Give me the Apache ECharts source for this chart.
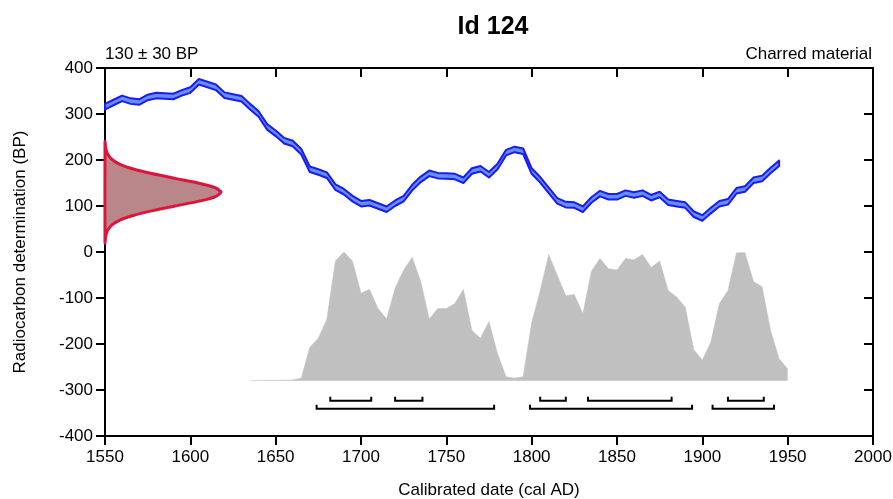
<!DOCTYPE html>
<html>
<head>
<meta charset="utf-8">
<script src="https://cdn.jsdelivr.net/npm/echarts@6/dist/echarts.min.js"></script>
<style>
  html, body { margin: 0; padding: 0; background: #fff; }
  #chart { width: 893px; height: 499px; }
</style>
</head>
<body>
<div id="chart"></div>
<script>
// calibration curve (cal AD -> BP)
var calYears = [1550, 1555, 1560, 1565, 1570, 1575, 1580, 1585, 1590, 1595,
  1600, 1605, 1610, 1615, 1620, 1625, 1630, 1635, 1640, 1645,
  1650, 1655, 1660, 1665, 1670, 1675, 1680, 1685, 1690, 1695,
  1700, 1705, 1710, 1715, 1720, 1725, 1730, 1735, 1740, 1745,
  1750, 1755, 1760, 1765, 1770, 1775, 1780, 1785, 1790, 1795,
  1800, 1805, 1810, 1815, 1820, 1825, 1830, 1835, 1840, 1845,
  1850, 1855, 1860, 1865, 1870, 1875, 1880, 1885, 1890, 1895,
  1900, 1905, 1910, 1915, 1920, 1925, 1930, 1935, 1940, 1945]
var calBP = [316, 325, 334, 328, 326, 336, 340, 339, 338, 346,
  352, 370, 364, 358, 341, 337, 333, 316, 300, 272,
  258, 242, 236, 218, 180, 174, 167, 141, 131, 116,
  105, 107, 100, 93, 106, 116, 140, 158, 171, 166,
  165, 164, 156, 176, 181, 168, 186, 216, 223, 219,
  176, 157, 134, 111, 103, 102, 93, 113, 127, 120,
  120, 128, 124, 128, 118, 125, 108, 105, 102, 82,
  74, 90, 105, 109, 133, 137, 156, 160, 177, 193]
var calSigma = 6

// measurement 130 ± 30 BP, drawn sideways (width in years)
var distBP = [240, 230, 220, 210, 200, 190, 180, 170, 160, 150, 140, 130,
  120, 110, 100, 90, 80, 70, 60, 50, 40, 30, 20]
var distW = [0, 0.3, 0.8, 2, 4.5, 9, 17, 28, 41, 54.5, 64.5, 68,
  64.5, 54.5, 41, 28, 17, 9, 4.5, 2, 0.8, 0.3, 0]

// calibrated probability (relative)
var probYears = [1635, 1640, 1645, 1650, 1655, 1660, 1665, 1670, 1675, 1680,
  1685, 1690, 1695, 1700, 1705, 1710, 1715, 1720, 1725, 1730,
  1735, 1740, 1745, 1750, 1755, 1760, 1765, 1770, 1775, 1780,
  1785, 1790, 1795, 1800, 1805, 1810, 1815, 1820, 1825, 1830,
  1835, 1840, 1845, 1850, 1855, 1860, 1865, 1870, 1875, 1880,
  1885, 1890, 1895, 1900, 1905, 1910, 1915, 1920, 1925, 1930,
  1935, 1940, 1945, 1950]
var probVal = [0, 0.002, 0.003, 0.003, 0.004, 0.005, 0.02, 0.26, 0.33, 0.48,
  0.93, 1.0, 0.93, 0.68, 0.71, 0.56, 0.48, 0.72, 0.86, 0.96,
  0.77, 0.48, 0.56, 0.56, 0.60, 0.71, 0.39, 0.33, 0.46, 0.21,
  0.03, 0.02, 0.03, 0.45, 0.70, 0.98, 0.82, 0.66, 0.67, 0.52,
  0.85, 0.95, 0.87, 0.86, 0.95, 0.94, 0.98, 0.88, 0.93, 0.70,
  0.65, 0.57, 0.24, 0.16, 0.30, 0.60, 0.70, 0.995, 0.995, 0.77,
  0.73, 0.39, 0.17, 0.09]

// highest probability ranges
var range68 = [[1682, 1706], [1720, 1736], [1805, 1820], [1833, 1882], [1915, 1936]]
var range95 = [[1674, 1778], [1799, 1894], [1906, 1942]]

var font = "'Liberation Sans', Arial, sans-serif"
var chart = echarts.init(document.getElementById('chart'))

var upperPts = calYears.map(function (y, i) { return [y, calBP[i] + calSigma] })
var lowerPts = calYears.map(function (y, i) { return [y, calBP[i] - calSigma] })
var distData = distBP.map(function (b, i) { return [1550 + distW[i], b] })
var probData = probYears.map(function (y, i) { return [y, probVal[i]] })
var rangeData = []
range68.forEach(function (r) { rangeData.push([r[0], r[1], 0]) })
range95.forEach(function (r) { rangeData.push([r[0], r[1], 1]) })

var axisLine = { onZero: false, lineStyle: { color: '#000', width: 2 } }
var tickOut = { show: true, length: 9, lineStyle: { color: '#000', width: 2 } }
var tickIn = { show: true, inside: true, length: 9, lineStyle: { color: '#000', width: 2 } }
var plain = function (v) { return String(v) }

var option = {
  backgroundColor: '#fff',
  animation: false,
  title: [
    { text: 'Id 124', left: 488, top: 10, textAlign: 'center',
      textStyle: { fontFamily: font, fontSize: 25, fontWeight: 'bold', color: '#000' } },
    { text: '130 ± 30 BP', left: 100, top: 41,
      textStyle: { fontFamily: font, fontSize: 17, fontWeight: 'normal', color: '#000' } },
    { text: 'Charred material', right: 16, top: 41,
      textStyle: { fontFamily: font, fontSize: 17, fontWeight: 'normal', color: '#000' } }
  ],
  grid: { left: 105, right: 20, top: 68, bottom: 63, outerBoundsMode: 'none' },
  xAxis: [
    {
      type: 'value', min: 1550, max: 2000, interval: 50,
      name: 'Calibrated date (cal AD)', nameLocation: 'middle', nameGap: 46,
      nameTextStyle: { fontFamily: font, fontSize: 17, color: '#000' },
      axisLine: axisLine, axisTick: tickOut,
      axisLabel: { margin: 13, fontFamily: font, fontSize: 17, color: '#000', formatter: plain },
      splitLine: { show: false }
    },
    {
      type: 'value', min: 1550, max: 2000, interval: 50, position: 'top',
      axisLine: axisLine, axisTick: tickIn, axisLabel: { show: false },
      splitLine: { show: false }
    }
  ],
  yAxis: [
    {
      type: 'value', min: -400, max: 400, interval: 100,
      name: 'Radiocarbon determination (BP)', nameLocation: 'middle', nameGap: 76,
      nameTextStyle: { fontFamily: font, fontSize: 17, color: '#000' },
      axisLine: axisLine, axisTick: tickOut,
      axisLabel: { margin: 12, fontFamily: font, fontSize: 17, color: '#000', formatter: plain },
      splitLine: { show: false }
    },
    {
      type: 'value', min: -400, max: 400, interval: 100, position: 'right',
      axisLine: axisLine, axisTick: tickIn, axisLabel: { show: false },
      splitLine: { show: false }
    },
    {
      // hidden scale for the probability distribution
      type: 'value', min: -0.4298, max: 2.4298, show: false,
      splitLine: { show: false }
    }
  ],
  series: [
    {
      name: 'prob',
      type: 'line',
      yAxisIndex: 2,
      data: probData,
      symbol: 'none',
      lineStyle: { width: 0.5, color: '#c0c0c0' },
      areaStyle: { color: '#c0c0c0', opacity: 1 },
      z: 1
    },
    {
      name: 'ranges',
      type: 'custom',
      data: rangeData,
      encode: { x: [0, 1] },
      renderItem: function (params, api) {
        var base = api.coord([api.value(0), -280])[1]
        var y = base + (api.value(2) === 0 ? 20 : 28)
        var x1 = api.coord([api.value(0), 0])[0]
        var x2 = api.coord([api.value(1), 0])[0]
        return {
          type: 'polyline',
          shape: { points: [[x1, y - 4], [x1, y], [x2, y], [x2, y - 4]] },
          style: { stroke: '#000', lineWidth: 2, fill: null }
        }
      },
      z: 3
    },
    {
      name: 'dist',
      type: 'custom',
      data: distData,
      renderItem: function (params, api) {
        if (params.dataIndex !== 0) return null
        var pts = distData.map(function (d) { return api.coord(d) })
        return {
          type: 'polygon',
          shape: { points: pts, smooth: 0.2 },
          style: { fill: 'rgb(185,135,138)', stroke: 'rgb(222,20,60)', lineWidth: 3 }
        }
      },
      z: 2
    },
    {
      name: 'curve',
      type: 'custom',
      data: upperPts.concat(lowerPts),
      renderItem: function (params, api) {
        if (params.dataIndex !== 0) return null
        var pts = upperPts.map(function (d) { return api.coord(d) })
        var low = lowerPts.map(function (d) { return api.coord(d) }).reverse()
        return {
          type: 'polygon',
          shape: { points: pts.concat(low) },
          style: { fill: 'rgb(100,145,240)', stroke: '#1a1aff', lineWidth: 2, lineJoin: 'round' }
        }
      },
      z: 4
    }
  ]
}
chart.setOption(option)
</script>
</body>
</html>
